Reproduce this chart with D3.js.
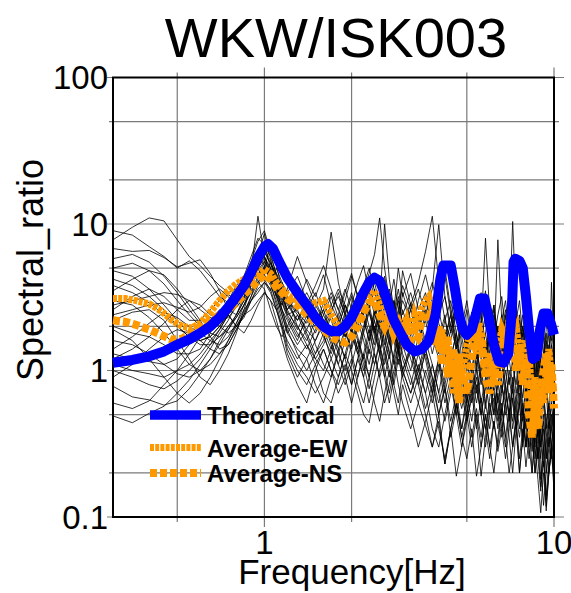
<!DOCTYPE html>
<html>
<head>
<meta charset="utf-8">
<script src="https://cdn.jsdelivr.net/npm/d3@7"></script>
<style>
  html, body { margin: 0; padding: 0; background: #fff; }
  svg { display: block; }
  text { font-family: "Liberation Sans", Arial, Helvetica, sans-serif; fill: #000; }
</style>
</head>
<body>
<svg id="chart" width="571" height="593"></svg>
<script>
// ---------------- DATA ----------------
const title = "WKW/ISK003";
const xLabel = "Frequency[Hz]";
const yLabel = "Spectral_ratio";
const xTickLabels = [1, 10];
const yTickLabels = [0.1, 1, 10, 100];
const xGrid = [0.5, 1, 2, 5, 10];
const yGrid = [0.1, 0.2, 0.5, 1, 2, 5, 10, 20, 50, 100];
const legendNames = ["Theoretical", "Average-EW", "Average-NS"];

// Theoretical amplification
const theoFreq = [0.3,0.35,0.4,0.45,0.5,0.55,0.6,0.65,0.7,0.75,0.8,0.85,0.9,0.95,1.0,1.03,1.07,1.12,1.2,1.3,1.4,1.5,1.6,1.7,1.8,1.9,2.0,2.1,2.2,2.3,2.4,2.5,2.6,2.7,2.8,2.95,3.1,3.3,3.5,3.7,3.9,4.05,4.15,4.4,4.55,4.7,4.85,5.0,5.2,5.4,5.55,5.75,5.95,6.2,6.45,6.7,6.95,7.15,7.25,7.35,7.6,7.8,8.0,8.2,8.45,8.7,8.95,9.2,9.5,9.75,10];
const theoVal  = [1.13,1.18,1.25,1.35,1.5,1.63,1.8,2.0,2.3,2.7,3.2,3.8,4.7,5.9,7.0,7.3,6.8,5.6,4.3,3.4,2.8,2.3,2.0,1.85,1.85,2.0,2.3,2.8,3.4,4.0,4.3,4.1,3.4,2.7,2.2,1.8,1.5,1.35,1.4,1.6,2.4,4.2,5.2,5.2,3.6,2.4,1.9,1.75,1.9,2.5,3.1,3.1,2.3,1.5,1.15,1.13,1.3,2.5,5.5,5.8,5.6,5.0,3.2,1.9,1.2,1.25,1.9,2.45,2.45,2.1,1.75];

// Averages
const avgFreq = [0.3,0.33,0.36,0.4,0.44,0.48,0.52,0.56,0.6,0.65,0.7,0.75,0.8,0.85,0.9,0.95,1.0,1.05,1.1,1.15,1.2,1.3,1.4,1.5,1.6,1.7,1.8,1.9,2.0,2.1,2.2,2.3,2.4,2.5,2.6,2.7,2.8,2.9,3.0,3.1,3.2,3.3,3.4,3.5,3.6,3.7,3.8,3.9,4.0,4.1,4.2,4.3,4.4,4.5,4.6,4.7,4.8,5.0,5.2,5.4,5.5,5.6,5.8,6.0,6.2,6.4,6.6,6.8,7.0,7.2,7.4,7.6,7.8,8.0,8.2,8.4,8.6,8.8,9.0,9.2,9.4,9.6,9.8,10];
const avgEW = [3.1,3.1,3.0,2.85,2.55,2.2,2.0,1.95,2.1,2.5,3.0,3.5,3.9,4.2,4.3,4.6,4.9,4.6,4.0,3.6,3.3,3.0,2.6,2.9,3.0,2.4,2.0,1.9,2.1,2.2,2.6,3.2,3.5,2.8,2.2,2.3,2.0,2.2,1.9,2.3,1.8,2.4,2.0,2.7,3.0,3.2,2.6,2.0,1.4,1.9,1.3,1.7,1.0,1.4,0.8,1.3,0.9,1.5,1.9,1.3,2.1,1.6,1.0,1.3,0.8,1.4,1.9,1.6,2.2,1.8,2.0,1.3,1.6,0.9,1.3,0.6,0.9,0.5,0.8,0.6,1.0,1.4,0.9,0.7];
const avgNS = [2.2,2.15,2.05,1.9,1.75,1.62,1.65,1.8,2.0,2.2,2.4,2.6,2.9,3.3,3.7,4.1,4.5,4.2,3.7,3.4,3.1,2.8,2.4,2.1,1.9,1.7,1.6,1.55,1.7,2.0,2.5,2.9,3.0,2.4,2.0,2.4,1.8,2.1,1.7,2.1,1.6,1.9,1.7,2.3,2.5,2.2,2.8,1.5,2.0,1.1,1.6,0.9,1.4,0.7,1.1,0.6,1.0,0.7,1.2,2.0,1.4,1.8,0.9,0.7,1.1,0.8,1.3,1.9,1.4,1.7,1.0,1.5,0.8,1.2,0.5,0.35,0.6,0.4,0.7,1.0,1.3,0.7,1.1,0.55];

// Individual records (shared frequency grid)
const recFreq = [0.3,0.35,0.4,0.45,0.5,0.55,0.6,0.65,0.7,0.75,0.8,0.85,
                 0.9,0.95,1.0,1.05,1.1,1.15,1.2,1.3,1.4,1.5,1.6,1.7,
                 1.8,1.9,2.0,2.1,2.2,2.3,2.4,2.5,2.6,2.7,2.8,2.9,
                 3.0,3.2,3.4,3.6,3.8,4.0,4.2,4.4,4.6,4.8,5.0,5.2,
                 5.4,5.6,5.8,6.0,6.2,6.4,6.6,6.8,7.0,7.2,7.4,7.6,
                 7.8,8.0,8.2,8.4,8.6,8.8,9.0,9.2,9.4,9.6,9.8,10];
const rec01 = [7.8,9.5,11,10.5,7.8,6.0,5.2,4.4,3.8,3.4,3.6,4.4,
               6.0,8.0,7.2,5.0,3.8,3.1,2.6,3.4,2.3,2.0,2.9,2.2,
               1.6,2.4,3.2,2.5,3.8,5.0,3.5,2.6,3.4,2.2,3.0,1.8,
               2.6,1.7,3.0,4.5,2.8,1.6,2.4,1.2,1.8,0.9,1.5,2.5,
               1.6,2.8,1.4,0.9,1.6,1.0,1.8,2.6,1.5,2.2,1.2,1.9,
               0.9,1.4,0.7,1.1,0.5,0.8,0.45,0.9,1.4,0.8,1.2,0.6];
const rec02 = [9.0,8.4,7.0,6.0,5.0,5.6,4.8,3.9,3.2,2.9,3.3,4.2,
               5.6,7.6,9.0,6.4,4.4,3.5,3.0,2.5,2.1,2.7,3.6,8.8,
               4.0,2.5,2.0,2.7,3.6,4.6,6.2,11,5.0,3.0,2.4,3.2,
               2.0,2.8,4.0,6.5,11.3,4.0,2.2,3.0,1.8,2.5,1.4,2.0,
               3.2,2.2,3.5,1.8,1.1,2.0,1.3,2.2,3.4,5.0,2.8,1.6,
               2.4,1.4,2.0,1.0,1.6,0.9,1.4,2.0,1.2,1.8,1.0,1.5];
const rec03 = [6.8,6.5,6.6,5.9,5.1,5.4,5.7,4.6,3.5,2.6,2.4,3.0,
               4.8,11.3,6.0,4.2,3.3,2.8,3.6,6.0,4.0,2.8,2.2,1.7,
               2.2,3.0,4.4,3.2,2.4,3.0,4.0,2.8,10,4.2,2.6,2.0,
               3.4,2.2,1.6,2.4,3.6,9.9,3.2,1.8,2.6,1.2,2.0,1.4,
               2.4,1.5,1.0,1.9,2.8,1.6,2.4,1.4,2.0,3.0,1.8,1.2,
               1.8,1.1,1.6,0.8,1.2,1.9,1.1,0.7,1.3,2.2,1.5,1.0];
const rec04 = [0.49,0.44,0.51,0.57,0.7,0.86,1.1,1.4,1.8,2.2,2.8,3.6,
               4.5,5.5,6.0,4.6,3.4,2.4,1.8,1.4,1.2,1.6,2.2,1.5,
               1.1,1.6,2.3,1.7,1.2,0.9,1.4,2.0,1.5,2.4,1.6,1.1,
               1.5,1.0,1.7,1.2,0.7,1.1,0.6,0.9,0.5,0.8,1.2,0.7,
               1.1,0.6,0.9,0.5,0.8,1.3,0.8,0.6,1.0,0.7,1.2,0.6,
               0.9,0.5,0.8,0.4,0.6,0.35,0.5,0.3,0.45,0.6,0.4,0.55];
const rec05 = [0.78,0.66,0.63,0.58,0.62,0.75,0.95,1.2,1.5,1.9,2.3,2.8,
               3.4,4.2,5.2,4.0,2.8,2.0,1.4,1.0,0.8,1.1,0.7,0.6,
               0.9,1.3,1.0,0.7,0.5,0.44,0.7,1.0,1.4,1.0,0.8,1.2,
               0.9,1.4,0.8,0.5,0.3,0.45,0.23,0.4,0.6,0.35,0.5,0.8,
               0.45,0.19,0.35,0.6,0.4,0.7,0.45,0.3,0.5,0.8,0.4,0.2,
               0.35,0.5,0.3,0.45,0.25,0.4,0.18,0.3,0.14,0.25,0.4,0.3];
const rec06 = [2.2,2.5,2.6,2.2,1.6,1.2,0.9,0.8,1.0,1.3,1.8,2.6,
               3.8,6.2,8.6,5.8,3.8,2.6,2.2,1.6,2.4,1.5,1.1,0.9,
               1.3,1.9,1.4,2.0,2.8,2.0,1.5,2.2,1.6,1.2,1.8,1.3,
               1.8,1.2,0.8,1.4,0.9,0.5,0.8,0.35,0.55,0.9,0.6,1.0,
               0.7,1.1,0.6,0.9,0.5,0.8,1.2,0.7,0.5,0.9,0.6,0.4,
               0.6,0.3,0.5,0.2,0.35,0.6,0.25,0.4,0.2,0.3,0.5,0.35];
const rec07 = [3.5,4.2,4.8,4.5,3.6,2.8,2.2,1.7,1.4,1.5,1.9,2.4,
               3.2,4.5,5.5,4.8,4.2,3.4,2.8,2.2,3.0,2.4,1.8,2.5,
               3.4,2.4,1.8,1.3,1.9,2.6,3.6,2.4,1.8,2.8,4.2,2.6,
               1.8,2.6,1.6,2.2,1.3,2.0,1.4,0.9,1.5,2.2,1.2,1.7,
               1.0,1.6,2.4,1.3,1.8,1.1,0.7,1.2,1.8,1.1,0.8,1.4,
               1.1,0.7,1.0,0.6,0.9,0.5,0.8,1.1,0.7,0.4,0.6,0.9];
const rec08 = [1.1,1.0,0.95,0.9,1.0,1.3,1.7,2.2,2.6,2.4,2.0,2.3,
               3.0,3.8,4.6,5.4,4.6,3.8,3.2,2.0,1.5,1.2,1.0,1.4,
               2.0,2.8,2.2,1.6,1.2,1.7,2.5,1.8,1.3,0.9,1.3,1.9,
               1.3,0.9,0.6,1.0,0.7,1.2,0.8,1.3,0.9,0.6,0.9,0.6,
               0.9,0.5,0.8,1.2,0.7,0.5,0.8,0.5,0.7,0.4,0.6,0.9,
               0.5,0.8,0.45,0.7,0.4,0.25,0.4,0.6,0.35,0.5,0.3,0.45];
const rec09 = [5.0,5.4,4.8,3.9,3.0,2.4,2.0,1.9,2.2,2.8,3.4,3.9,
               4.4,5.0,4.2,3.5,5.0,4.0,2.9,2.2,2.8,3.8,5.2,3.6,
               2.6,3.6,2.6,2.0,2.8,3.8,2.8,2.0,2.6,3.6,2.6,5.0,
               3.2,4.6,2.6,3.4,2.0,3.0,4.4,2.4,3.4,1.8,2.6,1.6,
               2.2,3.4,2.0,2.8,1.6,2.4,3.2,1.8,2.6,3.8,2.2,3.0,
               1.7,2.4,1.3,1.9,1.1,1.6,2.2,1.3,1.9,2.6,1.6,2.0];
const rec10 = [1.6,1.5,1.3,1.1,0.95,0.9,1.0,1.2,1.6,2.0,2.3,2.8,
               3.5,4.0,4.8,7.5,5.2,3.6,2.4,1.8,1.4,1.9,2.6,1.8,
               1.3,1.0,1.5,2.2,1.6,1.1,1.7,2.6,1.8,1.3,2.0,1.4,
               2.2,1.5,1.0,1.6,1.1,0.7,1.2,0.8,1.3,0.8,0.5,0.85,
               1.3,0.8,1.2,0.7,1.1,0.6,0.9,1.4,0.8,1.2,0.7,1.0,
               0.65,1.0,0.6,0.35,0.5,0.8,0.5,0.7,0.4,0.6,0.9,0.5];
const rec11 = [3.0,2.8,2.3,1.8,1.4,1.1,1.0,1.1,1.3,1.6,2.0,2.4,
               2.6,3.0,3.4,3.0,2.6,2.9,2.4,2.6,1.8,1.3,1.6,2.4,
               1.7,1.2,0.8,1.2,1.8,1.3,2.0,1.4,0.9,1.3,0.8,0.6,
               1.0,0.7,1.1,0.7,0.4,0.3,0.5,0.8,0.5,0.3,0.45,0.7,
               0.4,0.65,0.4,0.25,0.45,0.3,0.55,0.8,0.5,0.3,0.45,0.2,
               0.35,0.55,0.3,0.2,0.4,0.25,0.15,0.3,0.11,0.2,0.3,0.2];
const rec12 = [4.2,3.8,3.2,2.6,2.0,1.7,1.5,1.5,1.7,2.0,2.4,3.0,
               3.6,4.0,3.6,2.6,2.0,1.7,2.0,2.8,4.2,3.2,4.5,2.8,
               2.2,1.7,2.4,3.4,2.4,1.8,2.6,1.9,1.4,2.0,3.0,2.2,
               4.8,2.8,2.0,3.0,2.0,1.4,2.2,1.6,2.6,1.5,1.0,1.5,
               2.4,1.4,1.8,2.8,1.6,1.0,1.5,2.4,1.4,2.0,1.2,2.2,
               1.3,2.0,1.1,1.6,0.9,1.3,0.8,1.2,1.8,1.0,1.5,1.2];
const rec13 = [1.3,1.2,1.15,1.1,1.2,1.5,1.9,2.3,2.0,1.8,2.0,2.5,
               3.2,4.0,4.5,3.8,3.0,2.2,1.5,1.1,0.9,0.7,0.9,1.2,
               1.6,1.2,1.8,1.3,0.9,1.4,1.1,1.6,2.3,1.6,1.2,1.7,
               1.2,0.8,1.3,0.9,0.6,1.0,1.6,1.0,0.6,0.4,0.7,0.45,
               0.8,0.5,0.3,0.5,0.8,0.5,0.35,0.6,0.9,0.6,0.4,0.7,
               0.45,0.3,0.55,0.35,0.2,0.35,0.25,0.12,0.2,0.35,0.25,0.4];
const rec14 = [2.6,3.2,3.6,3.2,2.6,2.2,2.2,2.6,3.0,3.3,3.0,3.4,
               4.0,4.6,5.0,4.2,3.2,4.0,3.4,4.4,3.0,2.2,2.6,3.4,
               2.6,2.0,2.8,4.0,5.2,3.4,2.4,3.0,4.4,3.0,2.0,2.6,
               3.8,2.6,3.6,2.4,1.6,2.4,3.2,2.0,1.4,2.0,3.0,1.8,
               1.2,1.8,1.2,1.7,2.6,1.5,2.2,3.0,1.8,2.6,1.6,2.4,
               1.5,1.1,1.6,1.0,1.4,2.0,1.2,1.7,1.0,1.4,1.9,1.3];
const rec15 = [1.9,1.6,1.2,0.9,0.7,0.6,0.7,0.9,1.2,1.6,2.1,2.6,
               3.0,3.4,4.0,3.6,2.6,1.9,1.3,0.9,1.2,0.8,0.6,0.9,
               1.4,0.9,0.6,0.9,1.3,0.9,0.6,0.45,0.7,1.0,0.7,0.5,
               0.8,0.5,0.3,0.45,0.7,0.4,0.25,0.4,0.19,0.3,0.5,0.3,
               0.5,0.3,0.5,0.3,0.2,0.35,0.55,0.35,0.2,0.3,0.45,0.25,
               0.4,0.22,0.35,0.5,0.3,0.18,0.107,0.2,0.118,0.2,0.3,0.15];
const rec16 = [2.4,2.6,2.8,2.9,2.7,2.5,2.7,3.2,3.6,3.2,2.7,3.1,
               4.0,5.2,6.5,5.4,4.0,3.0,2.5,2.0,1.6,2.2,1.7,1.3,
               1.8,2.5,3.4,2.4,1.8,2.5,1.8,1.3,1.9,2.8,2.0,1.5,
               2.2,1.5,2.4,1.6,2.6,1.8,1.2,1.9,2.8,1.7,1.1,1.7,
               1.1,1.9,8.0,2.4,1.4,7.8,2.2,1.4,2.2,10.4,2.6,1.5,
               2.0,1.2,1.8,1.1,0.7,1.1,1.6,0.9,1.3,0.8,4.0,1.4];
const rec17 = [0.6,0.55,0.62,0.8,1.0,1.1,1.3,1.6,1.9,2.4,2.0,1.8,
               2.2,2.8,3.4,3.0,2.2,1.6,1.2,0.8,0.6,1.0,1.4,1.0,
               0.7,0.9,1.2,0.8,0.6,0.9,1.3,0.9,0.6,0.8,1.2,0.8,
               0.6,0.4,0.6,0.42,0.3,0.5,0.23,0.4,0.6,0.35,0.25,0.4,
               0.19,0.3,0.5,0.3,0.45,0.28,0.4,0.6,0.35,0.2,0.4,0.6,
               0.3,0.45,0.25,0.4,0.2,0.3,0.16,0.24,0.13,0.2,0.28,0.17];
const rec18 = [2.0,1.8,1.7,1.5,1.3,1.3,1.4,1.8,2.4,3.0,3.8,4.4,
               5.2,6.4,7.0,6.0,4.6,3.4,2.6,1.9,2.6,3.4,2.4,1.8,
               2.4,3.4,4.6,3.2,2.2,1.6,2.4,3.4,2.4,1.7,2.5,3.6,
               2.4,3.4,2.2,1.5,2.4,3.6,5.0,2.6,1.6,1.1,1.6,2.4,
               1.5,2.2,1.3,1.9,2.8,1.7,1.1,1.7,2.6,1.5,2.0,1.2,
               0.8,1.2,1.7,1.0,1.4,0.8,1.2,0.7,1.0,1.5,0.9,0.7];
const rec19 = [1.4,1.7,2.1,2.5,2.3,2.0,1.8,1.6,1.5,1.7,2.1,2.8,
               3.8,5.0,6.0,5.0,3.6,2.6,1.9,1.3,1.0,1.3,1.8,1.2,
               0.9,1.3,1.9,1.4,1.0,1.5,2.2,1.5,1.1,1.5,2.1,1.4,
               1.0,1.5,1.0,0.7,1.1,0.7,0.45,0.7,1.1,0.7,0.45,0.65,
               1.0,0.6,0.4,0.65,1.0,0.6,0.4,0.25,0.4,0.65,0.4,0.6,
               0.35,0.55,0.8,0.5,0.3,0.5,0.3,0.45,0.25,0.4,0.6,0.35];
const rec20 = [5.8,6.2,5.5,4.4,3.4,2.6,2.1,1.8,1.7,1.9,2.4,3.2,
               4.4,5.8,6.8,5.6,4.2,3.6,3.0,2.4,1.9,1.6,2.1,2.8,
               3.6,2.8,2.1,2.8,3.8,2.6,1.9,2.6,3.6,2.6,1.8,2.4,
               1.8,2.6,1.9,2.8,4.0,2.6,1.6,2.4,1.4,2.0,1.4,1.0,
               1.7,1.2,1.8,1.2,0.8,1.3,1.8,1.1,1.5,2.2,1.4,0.9,
               1.3,0.9,1.3,0.8,1.1,0.7,1.0,0.6,0.9,1.2,0.8,0.6];
const rec21 = [1.0,0.9,0.8,0.75,0.85,1.0,1.2,1.5,1.9,2.4,3.0,3.6,
               4.2,4.8,5.6,4.4,3.2,2.4,1.8,2.4,1.7,1.2,1.5,2.0,
               1.4,1.9,1.3,0.9,1.3,1.9,1.3,0.9,1.2,1.7,1.1,1.5,
               1.0,1.4,0.9,1.3,0.8,1.2,0.7,1.1,0.65,1.0,0.6,0.9,
               0.6,0.95,0.55,0.9,0.5,0.85,0.5,0.8,0.45,0.75,0.5,0.8,
               0.45,0.7,0.4,0.65,0.35,0.6,0.3,0.5,0.25,0.45,0.3,0.5];
const rec22 = [3.8,3.4,2.9,2.4,2.0,1.7,1.6,1.7,2.0,2.4,2.9,3.5,
               4.2,5.0,5.8,5.0,4.0,3.2,2.6,3.2,2.4,1.8,2.4,3.2,
               2.3,1.7,2.4,3.2,2.3,1.6,2.2,3.0,2.1,1.5,2.2,3.0,
               2.1,2.9,2.0,1.4,2.0,1.3,1.9,1.2,1.8,1.1,1.6,1.0,
               1.5,0.9,1.4,0.9,1.3,2.0,1.2,0.8,1.3,1.9,1.1,1.6,
               1.0,1.5,0.9,1.3,0.8,1.2,0.7,1.0,0.6,0.9,1.3,0.8];
const rec23 = [0.9,1.1,1.4,1.7,1.9,1.8,1.6,1.4,1.3,1.5,1.9,2.4,
               3.0,3.6,4.0,3.4,2.6,2.0,1.6,1.2,1.5,1.1,1.4,1.0,
               0.8,1.1,0.8,1.2,0.9,0.6,0.9,1.3,0.9,0.6,0.9,1.3,
               0.9,0.6,0.9,0.55,0.8,0.5,0.75,0.45,0.7,0.4,0.6,0.35,
               0.55,0.35,0.6,0.4,0.65,0.4,0.6,0.35,0.55,0.3,0.5,0.35,
               0.55,0.3,0.5,0.28,0.45,0.25,0.4,0.22,0.35,0.2,0.32,0.25];
const rec24 = [4.8,4.4,3.6,2.8,2.2,1.8,1.6,1.7,2.0,2.5,3.2,4.0,
               5.0,6.0,5.2,4.0,3.2,2.6,2.0,1.5,1.9,2.6,1.9,1.4,
               2.0,2.8,2.0,1.4,2.0,2.8,1.9,1.3,1.9,2.6,1.8,1.3,
               1.9,1.3,1.9,2.6,1.7,1.2,1.7,2.4,1.5,1.0,1.5,2.1,
               1.4,0.9,1.4,2.0,1.3,0.9,1.3,1.8,1.2,0.8,1.2,1.7,
               1.1,0.7,1.1,1.5,0.9,0.6,0.9,1.3,0.8,0.5,0.8,1.1];
const rec25 = [1.2,1.4,1.7,2.1,2.6,3.0,2.8,2.4,2.2,2.3,2.7,3.2,
               3.9,4.6,5.0,4.4,3.6,2.9,2.3,1.7,2.2,3.0,2.2,1.6,
               1.1,0.8,1.1,1.6,1.1,0.75,1.1,1.5,1.0,0.7,1.0,1.4,
               1.0,0.7,1.0,1.4,0.9,0.6,0.9,1.3,0.8,0.55,0.8,1.1,
               0.75,0.5,0.75,1.0,0.7,0.45,0.7,1.0,0.65,0.45,0.65,0.9,
               0.6,0.4,0.6,0.8,0.5,0.35,0.5,0.7,0.45,0.3,0.45,0.6];
const rec26 = [2.8,3.0,3.2,3.4,3.3,3.0,2.6,2.3,2.2,2.4,2.8,3.4,
               4.4,5.4,6.4,5.4,4.4,3.6,3.0,2.6,3.4,2.6,2.0,2.6,
               3.2,2.4,1.8,2.5,3.4,2.5,1.8,2.4,3.2,2.3,1.7,2.3,
               3.0,2.2,1.6,2.2,3.0,2.1,1.5,2.1,2.8,2.0,1.4,2.0,
               2.6,1.8,1.3,1.8,2.4,1.7,1.2,1.7,2.2,1.5,1.1,1.5,
               2.0,1.4,1.0,1.4,1.8,1.3,0.9,1.2,1.6,1.1,0.8,1.1];
const records = [rec01,rec02,rec03,rec04,rec05,rec06,rec07,rec08,rec09,rec10,
                 rec11,rec12,rec13,rec14,rec15,rec16,rec17,rec18,rec19,rec20,
                 rec21,rec22,rec23,rec24,rec25,rec26];

// ---------------- DRAW ----------------
const svg = d3.select("#chart");
const L = 113, R = 554, T = 77.5, B = 517;
const x = d3.scaleLog().domain([0.3, 10]).range([L, R]);
const y = d3.scaleLog().domain([0.1, 100]).range([B, T]);

const zip = (fs, vs) => fs.map((f, i) => [f, vs[i]]).filter(d => d[1] != null);
const line = d3.line().x(d => x(d[0])).y(d => y(d[1]));

// grid
const grid = svg.append("g").attr("stroke", "#7a7a7a").attr("stroke-width", 1.2);
const majX = [1, 10], majY = [0.1, 1, 10, 100];
grid.selectAll("line.vx").data(xGrid).enter().append("line")
  .attr("x1", d => x(d)).attr("x2", d => x(d))
  .attr("y1", d => majX.includes(d) ? T - 10 : T - 5)
  .attr("y2", d => majX.includes(d) ? B + 10 : B + 5);
grid.selectAll("line.hy").data(yGrid).enter().append("line")
  .attr("y1", d => y(d)).attr("y2", d => y(d))
  .attr("x1", d => majY.includes(d) ? L - 6 : L - 4)
  .attr("x2", d => majY.includes(d) ? R + 10 : R + 5);

// frame
svg.append("rect").attr("x", L).attr("y", T).attr("width", R - L).attr("height", B - T)
  .attr("fill", "none").attr("stroke", "#000").attr("stroke-width", 2);

// records
svg.append("g").selectAll("path").data(records).enter().append("path")
  .attr("d", r => line(zip(recFreq, r)))
  .attr("fill", "none").attr("stroke", "#000").attr("stroke-width", 0.8);

// averages
svg.append("path").datum(zip(avgFreq, avgEW)).attr("d", line)
  .attr("fill", "none").attr("stroke", "#ff9900").attr("stroke-width", 7)
  .attr("stroke-dasharray", "4,1.2");
svg.append("path").datum(zip(avgFreq, avgNS)).attr("d", line)
  .attr("fill", "none").attr("stroke", "#ff9900").attr("stroke-width", 8)
  .attr("stroke-dasharray", "7,3");

// theoretical
svg.append("path").datum(zip(theoFreq, theoVal)).attr("d", line)
  .attr("fill", "none").attr("stroke", "#0000ff").attr("stroke-width", 10)
  .attr("stroke-linejoin", "round");

// tick labels
svg.selectAll("text.yt").data(yTickLabels).enter().append("text")
  .attr("x", L - 5).attr("y", d => y(d)).attr("dy", "0.36em")
  .attr("text-anchor", "end").attr("font-size", 33).text(d => d);
svg.selectAll("text.xt").data(xTickLabels).enter().append("text")
  .attr("x", d => x(d)).attr("y", 554)
  .attr("text-anchor", "middle").attr("font-size", 33).text(d => d);

// titles
svg.append("text").attr("x", 336).attr("y", 57).attr("text-anchor", "middle")
  .attr("font-size", 56).text(title);
svg.append("text").attr("x", 352).attr("y", 584).attr("text-anchor", "middle")
  .attr("font-size", 35).text(xLabel);
svg.append("text").attr("transform", "translate(43,270) rotate(-90)")
  .attr("text-anchor", "middle").attr("font-size", 36).text(yLabel);

// legend
const leg = [
  {name: legendNames[0], y: 415, stroke: "#0000ff", w: 9.5, dash: null},
  {name: legendNames[1], y: 447.5, stroke: "#ff9900", w: 7, dash: "4,1.2"},
  {name: legendNames[2], y: 473, stroke: "#ff9900", w: 8, dash: "7,3"}
];
const lg = svg.append("g");
leg.forEach(d => {
  lg.append("line").attr("x1", 150).attr("x2", 201).attr("y1", d.y).attr("y2", d.y)
    .attr("stroke", d.stroke).attr("stroke-width", d.w)
    .attr("stroke-dasharray", d.dash);
  lg.append("text").attr("x", 207).attr("y", d.y + 9).attr("font-size", 24)
    .attr("font-weight", "bold").text(d.name);
});
</script>
</body>
</html>
